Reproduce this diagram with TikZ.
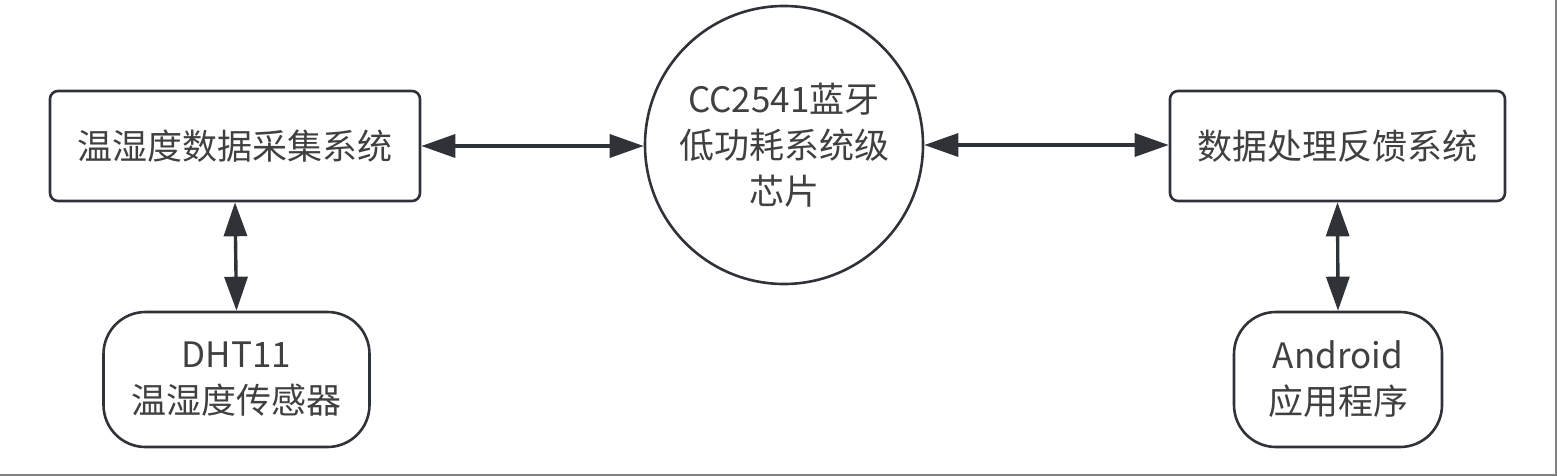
\documentclass[tikz,border=0pt]{standalone}
\usepackage{fontspec}
\setmainfont{Noto Sans CJK SC}
\usetikzlibrary{arrows.meta}
\definecolor{linec}{HTML}{2F3338}
\definecolor{textc}{HTML}{404040}
\definecolor{framec}{HTML}{808080}
\tikzset{
  base/.style={draw=linec, line width=2.6pt, fill=white, inner sep=0pt, align=center,
    text=textc, font=\fontsize{35}{46}\selectfont},
  rbox/.style={base, rectangle, rounded corners=8pt},
  term/.style={base, rectangle, rounded corners=42pt},
  chip/.style={base, circle, minimum size=278pt},
  link/.style={draw=linec, line width=3.4pt, {Triangle[length=34pt,width=23pt]}-{Triangle[length=34pt,width=23pt]}}
}
\begin{document}
\begin{tikzpicture}[x=1pt,y=-1pt]
\useasboundingbox (0,0) rectangle (1557,476);
\fill[white] (0,0) rectangle (1557,476);
\fill[framec] (1554.5,0) rectangle (1557,476);
\fill[framec] (0,473.5) rectangle (1557,476);

\node[rbox, minimum width=370pt, minimum height=110pt] (acq) at (235,146) {温湿度数据采集系统};
\node[chip] (cc) at (784,145) {CC2541蓝牙\\低功耗系统级\\芯片};
\node[rbox, minimum width=335pt, minimum height=110pt] (proc) at (1337.5,146) {数据处理反馈系统};
\node[term, minimum width=266pt, minimum height=135pt] (dht) at (236.5,379.5) {DHT11\\温湿度传感器};
\node[term, minimum width=208pt, minimum height=135pt] (app) at (1338,379.5) {Android\\应用程序};

\draw[link] (acq.east) -- (acq.east -| cc.west);
\draw[link] (cc.east) -- (cc.east -| proc.west);
\draw[link] (acq.south) -- (dht.north);
\draw[link] (proc.south) -- (app.north);
\end{tikzpicture}
\end{document}
